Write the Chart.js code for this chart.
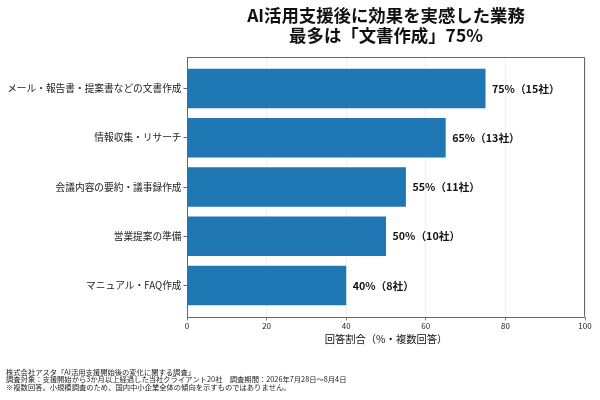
<!DOCTYPE html>
<html><head><meta charset="utf-8">
<script src="https://cdn.jsdelivr.net/npm/chart.js@4.4.1/dist/chart.umd.min.js"></script>
<style>html,body{margin:0;padding:0;background:#fff}canvas{display:block}</style>
</head><body>
<canvas id="c" width="600" height="400"></canvas>
<script>
const categories = ["メール・報告書・提案書などの文書作成","情報収集・リサーチ","会議内容の要約・議事録作成","営業提案の準備","マニュアル・FAQ作成"];
const percentValues = [75, 65, 55, 50, 40];
const companyCounts = [15, 13, 11, 10, 8];
const xTickValues = [0, 20, 40, 60, 80, 100];
const titleLines = ["AI活用支援後に効果を実感した業務", "最多は「文書作成」75%"];
const xAxisTitle = "回答割合（%・複数回答）";
const footnoteLines = [
  "株式会社アスタ「AI活用支援開始後の変化に関する調査」",
  "調査対象：支援開始から3か月以上経過した当社クライアント20社　調査期間：2026年7月28日～8月4日",
  "※複数回答。小規模調査のため、国内中小企業全体の傾向を示すものではありません。"
];

const FONT = '"Noto Sans CJK JP", "Noto Sans", sans-serif';
Chart.defaults.font.family = FONT;
Chart.defaults.color = '#222';

const PLOT = {left: 187, right: 585, top: 57, bottom: 317};

const framePlugin = {
  id: 'frame',
  afterDraw(chart) {
    const {ctx, chartArea: a} = chart;
    ctx.save();
    ctx.strokeStyle = '#666';
    ctx.lineWidth = 1;
    ctx.beginPath();
    const l = Math.round(a.left) + 0.5, r = Math.round(a.right) - 0.5;
    const t = Math.round(a.top) + 0.5, b = Math.round(a.bottom) - 0.5;
    ctx.moveTo(l, t); ctx.lineTo(r, t); ctx.lineTo(r, b);
    ctx.stroke();
    ctx.restore();
  }
};

const labelPlugin = {
  id: 'valueLabels',
  afterDatasetsDraw(chart) {
    const {ctx} = chart;
    const meta = chart.getDatasetMeta(0);
    ctx.save();
    ctx.font = 'bold 10.7px ' + FONT;
    ctx.fillStyle = '#111';
    ctx.textAlign = 'left';
    ctx.textBaseline = 'middle';
    meta.data.forEach((bar, i) => {
      ctx.fillText(percentValues[i] + '%（' + companyCounts[i] + '社）', bar.x + 6.5, bar.y);
    });
    ctx.restore();
  }
};

const textPlugin = {
  id: 'texts',
  afterDraw(chart) {
    const {ctx, chartArea: a} = chart;
    ctx.save();
    ctx.fillStyle = '#111';
    ctx.textAlign = 'center';
    ctx.textBaseline = 'middle';
    ctx.font = 'bold 17.4px ' + FONT;
    const cx = (a.left + a.right) / 2;
    ctx.fillText(titleLines[0], cx, 15);
    ctx.fillText(titleLines[1], cx, 35);
    ctx.font = '7.3px ' + FONT;
    ctx.textAlign = 'left';
    ctx.fillStyle = '#222';
    footnoteLines.forEach((s, i) => ctx.fillText(s, 6, 372 + i * 7.6));
    ctx.restore();
  }
};

new Chart(document.getElementById('c'), {
  type: 'bar',
  data: {
    datasets: [{
      data: percentValues.map((v, i) => ({x: v, y: i})),
      backgroundColor: '#1f77b4',
      borderWidth: 0,
      categoryPercentage: 1,
      barPercentage: 0.8
    }]
  },
  options: {
    indexAxis: 'y',
    responsive: false,
    animation: false,
    events: [],
    layout: {padding: {left: 0, right: 600 - PLOT.right, top: PLOT.top, bottom: 54.8}},
    plugins: {legend: {display: false}, tooltip: {enabled: false}, title: {display: false}},
    scales: {
      x: {
        type: 'linear',
        min: 0, max: 100,
        offset: false,
        afterFit(s) { s.height = 345.2 - PLOT.bottom; },
        afterBuildTicks(s) { s.ticks = xTickValues.map(v => ({value: v})); },
        grid: {color: '#ebebeb', lineWidth: 0.8, tickLength: 3.5, tickColor: '#666', drawTicks: true, offset: false},
        border: {color: '#666', width: 1},
        ticks: {font: {size: 8}, color: '#222', padding: 1, maxRotation: 0},
        title: {display: true, text: xAxisTitle, font: {size: 10.3}, color: '#111', padding: {top: 0, bottom: 0}}
      },
      y: {
        type: 'linear',
        reverse: true,
        offset: false,
        min: -0.64, max: 4.64,
        afterFit(s) { s.width = PLOT.left; },
        afterBuildTicks(s) { s.ticks = categories.map((c, i) => ({value: i})); },
        grid: {display: true, drawOnChartArea: false, tickLength: 3.5, tickColor: '#666', offset: false},
        border: {color: '#666', width: 1},
        ticks: {autoSkip: false, font: {size: 9.7}, color: '#222', padding: 2,
          callback: (v) => categories[v] ?? ''}
      }
    }
  },
  plugins: [framePlugin, labelPlugin, textPlugin]
});
</script>
</body></html>
